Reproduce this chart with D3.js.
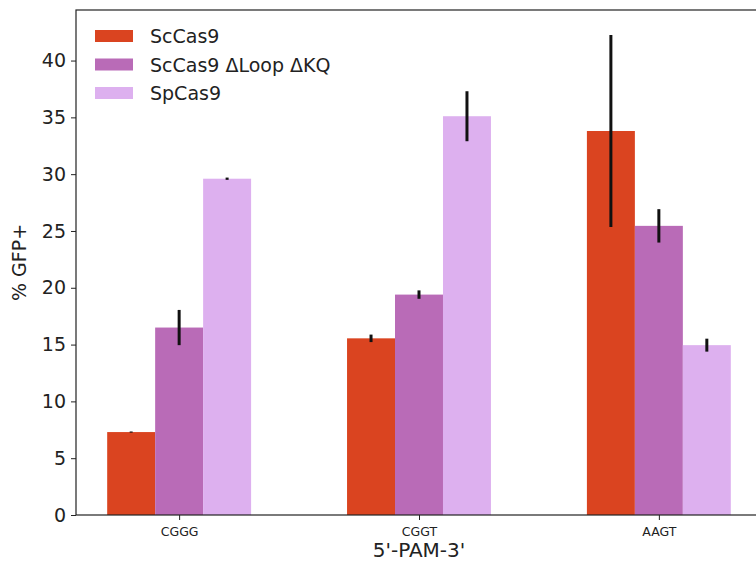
<!DOCTYPE html>
<html><head><meta charset="utf-8">
<script src="https://cdn.jsdelivr.net/npm/d3@7"></script>
<style>body{margin:0;background:#fff}svg{display:block}</style>
</head><body>
<svg id="c" width="756" height="564"></svg>
<script>
const categories = ["CGGG", "CGGT", "AAGT"];
const seriesNames = ["ScCas9", "ScCas9 \u0394Loop \u0394KQ", "SpCas9"];
const scCas9 = [7.3, 15.55, 33.8];
const scCas9Err = [0.05, 0.33, 8.45];
const scLoopKQ = [16.5, 19.4, 25.45];
const scLoopKQErr = [1.55, 0.37, 1.47];
const spCas9 = [29.6, 35.1, 14.95];
const spCas9Err = [0.1, 2.2, 0.57];
const yTicks = [0, 5, 10, 15, 20, 25, 30, 35, 40];
const colors = ["#da4420", "#b96bb7", "#ddb0ef"];

const values = [scCas9, scLoopKQ, spCas9];
const errs = [scCas9Err, scLoopKQErr, spCas9Err];

const svg = d3.select("#c");
const m = {left: 76, top: 10, right: 762, bottom: 515};
const x = d3.scaleLinear().domain([-0.43, 2.43]).range([m.left, m.right]);
const y = d3.scaleLinear().domain([0, 44.45]).range([m.bottom, m.top]);
const bw = 0.2;

const g = svg.append("g");
values.forEach((vals, s) => {
  g.selectAll(null).data(vals).enter().append("rect")
    .attr("x", (d, i) => x(i + (s - 1) * bw - bw / 2))
    .attr("width", x(bw) - x(0))
    .attr("y", d => y(d))
    .attr("height", d => y(0) - y(d))
    .attr("fill", colors[s]);
});
values.forEach((vals, s) => {
  g.selectAll(null).data(vals).enter().append("line")
    .attr("x1", (d, i) => x(i + (s - 1) * bw))
    .attr("x2", (d, i) => x(i + (s - 1) * bw))
    .attr("y1", (d, i) => y(d - errs[s][i]))
    .attr("y2", (d, i) => y(d + errs[s][i]))
    .attr("stroke", "#111").attr("stroke-width", 3);
});

// frame
svg.append("rect").attr("x", m.left).attr("y", m.top)
  .attr("width", m.right - m.left).attr("height", m.bottom - m.top)
  .attr("fill", "none").attr("stroke", "#222").attr("stroke-width", 1.2);

const yAxis = svg.append("g").attr("transform", `translate(${m.left},0)`)
  .call(d3.axisLeft(y).tickValues(yTicks).tickSize(5).tickPadding(5));
yAxis.select(".domain").remove();
yAxis.selectAll("text").attr("font-family", "DejaVu Sans").attr("font-size", 19).attr("fill", "#222");
yAxis.selectAll("line").attr("stroke", "#222");

const xAxis = svg.append("g").attr("transform", `translate(0,${m.bottom})`)
  .call(d3.axisBottom(x).tickValues([0, 1, 2]).tickFormat(i => categories[i]).tickSize(5).tickPadding(7));
xAxis.select(".domain").remove();
xAxis.selectAll("text").attr("font-family", "DejaVu Sans").attr("font-size", 12.5).attr("fill", "#222");
xAxis.selectAll("line").attr("stroke", "#222");

svg.append("text").attr("x", (m.left + m.right) / 2).attr("y", 557)
  .attr("text-anchor", "middle").attr("font-family", "DejaVu Sans").attr("font-size", 20).attr("fill", "#222")
  .text("5'-PAM-3'");
svg.append("text").attr("transform", `translate(26,${(m.top + m.bottom) / 2}) rotate(-90)`)
  .attr("text-anchor", "middle").attr("font-family", "DejaVu Sans").attr("font-size", 19).attr("fill", "#222")
  .text("% GFP+");

const leg = svg.append("g");
seriesNames.forEach((n, i) => {
  leg.append("rect").attr("x", 95).attr("y", 30 + i * 28.5).attr("width", 38).attr("height", 12).attr("fill", colors[i]);
  leg.append("text").attr("x", 150).attr("y", 43 + i * 28.5)
    .attr("font-family", "DejaVu Sans").attr("font-size", 19).attr("fill", "#222").text(n);
});
</script>
</body></html>
